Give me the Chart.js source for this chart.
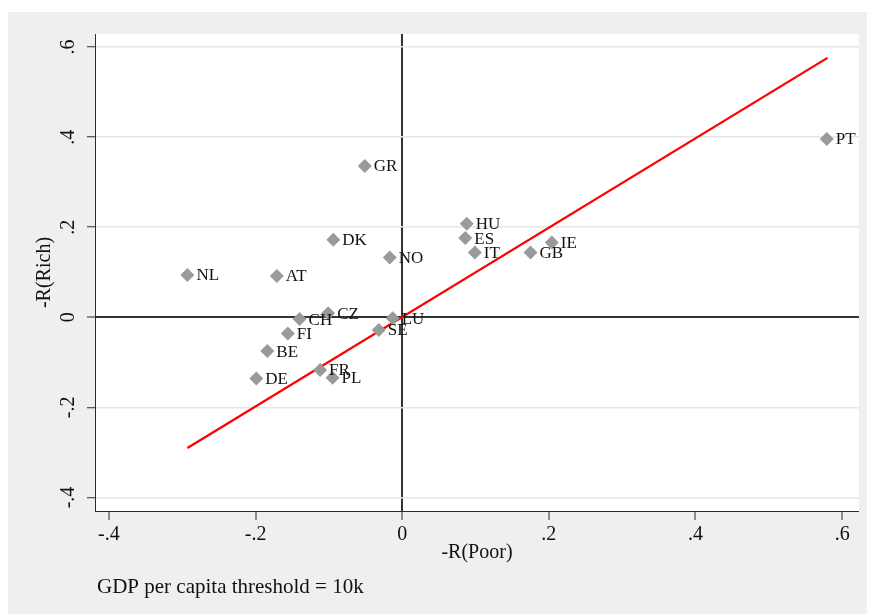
<!DOCTYPE html>
<html>
<head>
<meta charset="utf-8">
<title>-R(Rich) vs -R(Poor)</title>
<script src="https://cdn.jsdelivr.net/npm/chart.js@4.4.1/dist/chart.umd.min.js"></script>
<style>
  html, body { margin: 0; padding: 0; background: #fff; }
  canvas { display: block; }
</style>
</head>
<body>
<canvas id="scatterChart" width="870" height="614"></canvas>
<script>
// =======================================================
// DATA
// =======================================================
const countries  = ['PT', 'GR', 'HU', 'ES', 'IT', 'GB', 'IE', 'DK', 'NO', 'NL',
                    'AT', 'CZ', 'CH', 'LU', 'SE', 'FI', 'BE', 'FR', 'PL', 'DE'];
const poorValues = [0.579, -0.051, 0.088, 0.086, 0.099, 0.175, 0.204, -0.094, -0.017, -0.293,
                    -0.171, -0.101, -0.140, -0.013, -0.032, -0.156, -0.184, -0.112, -0.095, -0.199];
const richValues = [0.396, 0.336, 0.208, 0.176, 0.144, 0.144, 0.166, 0.172, 0.133, 0.094,
                    0.092, 0.009, -0.004, -0.002, -0.028, -0.036, -0.075, -0.117, -0.134, -0.136];

// fitted line (end points)
const fitX = [-0.293, 0.580];
const fitY = [-0.290, 0.576];

const tickValues = [-0.4, -0.2, 0, 0.2, 0.4, 0.6];
const noteText = 'GDP per capita threshold = 10k';

// =======================================================
// STYLE
// =======================================================
const FONT = "'Liberation Serif', 'Times New Roman', serif";
const INK = '#111111';
const AXIS = '#2b2b2b';
const ZERO = '#333333';
const GRID = '#e6e6e6';
const MARKER = '#9a9a9a';

function isZero(v) { return Math.abs(v) < 1e-9; }

// Stata style labels: .2, -.4, 0
function stataLabel(v) {
    if (isZero(v)) return '0';
    return (v < 0 ? '-' : '') + '.' + Math.round(Math.abs(v) * 10);
}

function setTicks(scale) {
    scale.ticks = tickValues.map(v => ({ value: v }));
}

// gray page + white plot region
const backgroundPlugin = {
    id: 'background',
    beforeDraw(chart) {
        const { ctx, chartArea } = chart;
        ctx.save();
        ctx.fillStyle = '#efefef';
        ctx.fillRect(8, 12, 859, 602);
        ctx.fillStyle = '#ffffff';
        ctx.fillRect(chartArea.left, chartArea.top, chartArea.right - chartArea.left, chartArea.bottom - chartArea.top);
        ctx.restore();
    }
};

// country codes next to each marker
const pointLabelPlugin = {
    id: 'pointLabels',
    afterDatasetsDraw(chart) {
        const { ctx } = chart;
        const meta = chart.getDatasetMeta(0);
        ctx.save();
        ctx.font = `17px ${FONT}`;
        ctx.fillStyle = INK;
        ctx.textAlign = 'left';
        ctx.textBaseline = 'middle';
        meta.data.forEach((el, i) => {
            ctx.fillText(countries[i], el.x + 9, el.y + 1);
        });
        ctx.restore();
    }
};

// note under the graph
const notePlugin = {
    id: 'note',
    afterDraw(chart) {
        const { ctx } = chart;
        ctx.save();
        ctx.font = `21px ${FONT}`;
        ctx.fillStyle = INK;
        ctx.textAlign = 'left';
        ctx.textBaseline = 'middle';
        ctx.fillText(noteText, 97, 587);
        ctx.restore();
    }
};

// =======================================================
// CHART
// =======================================================
const ctx = document.getElementById('scatterChart');

new Chart(ctx, {
    type: 'scatter',
    data: {
        datasets: [{
            label: 'Countries',
            data: countries.map((c, i) => ({ x: poorValues[i], y: richValues[i] })),
            pointStyle: 'rectRot',
            pointRadius: 7,
            backgroundColor: MARKER,
            borderColor: MARKER,
            borderWidth: 0,
            order: 1
        }, {
            type: 'line',
            label: 'Fit',
            data: fitX.map((x, i) => ({ x: x, y: fitY[i] })),
            borderColor: '#ff0000',
            borderWidth: 2.3,
            pointRadius: 0,
            fill: false,
            order: 2
        }]
    },
    options: {
        responsive: false,
        animation: false,
        devicePixelRatio: 1,
        layout: { padding: { left: 8, top: 34, right: 11, bottom: 0 } },
        plugins: {
            legend: { display: false },
            tooltip: { enabled: false }
        },
        scales: {
            x: {
                type: 'linear',
                min: -0.419,
                max: 0.623,
                afterBuildTicks: setTicks,
                afterFit: s => { s.height = 103; },
                grid: {
                    color: c => (c.tick && isZero(c.tick.value)) ? ZERO : 'rgba(0,0,0,0)',
                    lineWidth: c => (c.tick && isZero(c.tick.value)) ? 2 : 0,
                    tickColor: AXIS,
                    tickWidth: 1,
                    tickLength: 9
                },
                border: { display: true, color: AXIS, width: 1 },
                ticks: {
                    callback: stataLabel,
                    autoSkip: false,
                    maxRotation: 0,
                    padding: 3,
                    color: INK,
                    font: { family: FONT, size: 20 }
                },
                title: {
                    display: true,
                    text: '-R(Poor)',
                    color: INK,
                    font: { family: FONT, size: 20 },
                    padding: { top: 0, bottom: 49 }
                }
            },
            y: {
                type: 'linear',
                min: -0.43,
                max: 0.629,
                afterBuildTicks: setTicks,
                afterFit: s => { s.width = 87; },
                grid: {
                    color: c => (c.tick && isZero(c.tick.value)) ? ZERO : GRID,
                    lineWidth: c => (c.tick && isZero(c.tick.value)) ? 2 : 1.5,
                    tickColor: AXIS,
                    tickWidth: 1,
                    tickLength: 8
                },
                border: { display: true, color: AXIS, width: 1 },
                ticks: {
                    callback: stataLabel,
                    autoSkip: false,
                    minRotation: 90,
                    maxRotation: 90,
                    crossAlign: 'center',
                    padding: 7,
                    color: INK,
                    font: { family: FONT, size: 20 }
                },
                title: {
                    display: true,
                    text: '-R(Rich)',
                    color: INK,
                    font: { family: FONT, size: 20 },
                    padding: { top: 25, bottom: 0 }
                }
            }
        }
    },
    plugins: [backgroundPlugin, pointLabelPlugin, notePlugin]
});
</script>
</body>
</html>
